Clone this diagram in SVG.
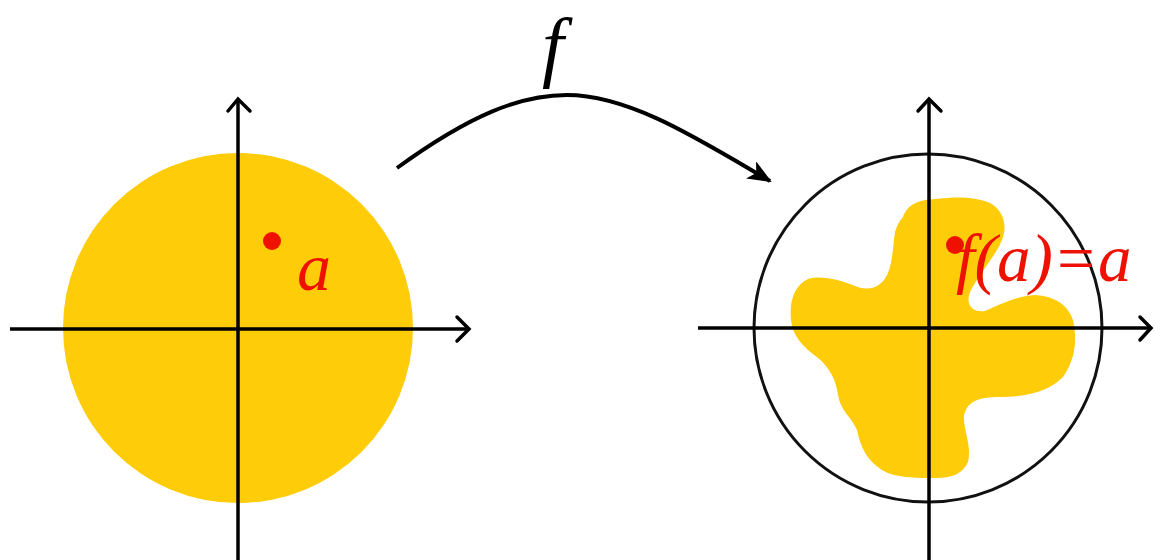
<svg xmlns="http://www.w3.org/2000/svg" width="1155" height="560" viewBox="0 0 1155 560">
<style>
.axis{stroke:#000;stroke-width:3.5;fill:none}
.head{stroke:#000;stroke-width:3.5;fill:none;stroke-linecap:round;stroke-linejoin:miter}
.fill{fill:#FFCC0A}
.dot{fill:#EE1100}
.lbl{font-family:"Liberation Serif","Times New Roman",serif;font-style:italic}
.red{fill:#EE1100}
</style>
<defs>
<marker id="arr" viewBox="0 0 12 10" refX="11" refY="5" markerWidth="6" markerHeight="5" orient="auto" markerUnits="strokeWidth">
<path d="M0,0 L12,5 L0,10 L3,5 Z" fill="#000"/>
</marker>
</defs>
<rect width="1155" height="560" fill="#fff"/>
<g id="left-disk">
<circle class="fill" cx="238" cy="328" r="175"/>
<line class="axis" x1="238" y1="99" x2="238" y2="560"/>
<polyline class="head" points="228,111 238,99 250,111"/>
<line class="axis" x1="10" y1="329" x2="469" y2="329"/>
<polyline class="head" points="457,317 469,329 457,341"/>
<circle class="dot" cx="272" cy="241" r="9"/>
<text class="lbl red" x="297" y="290" font-size="68">a</text>
</g>
<g id="right-disk">
<circle cx="928" cy="328" r="174" fill="none" stroke="#111" stroke-width="3"/>
<path class="fill" d="M903,217 C908,203 920,200 935,199 C955,197 973,196 990,203 C1003,210 1008,225 1002,240 C996,255 982,270 972,288 C965,300 968,313 985,311 C1000,305 1015,296 1035,295 C1055,296 1068,305 1073,320 C1077,340 1076,358 1063,377 C1050,390 1030,397 1000,397 C980,397 968,400 964,415 C963,430 972,445 968,462 C962,475 950,478 935,478 C915,478 895,478 882,470 C866,460 860,445 857,430 C852,418 840,410 838,395 C836,380 830,368 818,358 C805,348 793,338 791,320 C789,300 795,285 808,279 C822,275 840,280 855,286 C870,292 882,287 888,273 C893,260 893,245 895,232 C897,225 900,220 903,217 Z"/>
<line class="axis" x1="929" y1="99" x2="929" y2="560"/>
<polyline class="head" points="918,111 929,99 941,111"/>
<line class="axis" x1="698" y1="328" x2="1151" y2="328"/>
<polyline class="head" points="1140,317 1151,328 1140,340"/>
<circle class="dot" cx="955" cy="245" r="9"/>
<text class="lbl red" x="956" y="281" font-size="67">f(a)=a</text>
</g>
<g id="connectors">
<path d="M397,168 C470,115 520,95 567,95 C630,95 700,140 770,181" fill="none" stroke="#000" stroke-width="4" marker-end="url(#arr)"/>
<text class="lbl" x="542" y="72" font-size="78" fill="#000">f</text>
</g>
</svg>
